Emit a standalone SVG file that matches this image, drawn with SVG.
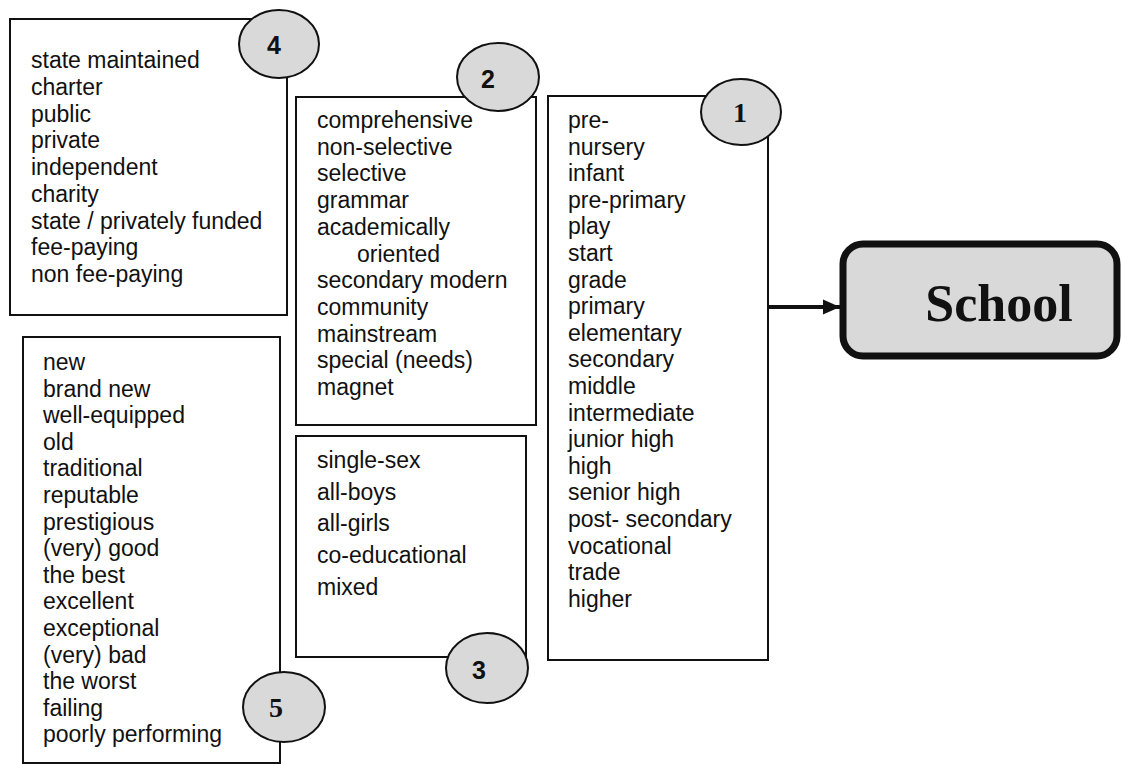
<svg xmlns="http://www.w3.org/2000/svg" width="1122" height="764" viewBox="0 0 1122 764">
<defs>
<style>
.box{fill:#fff;stroke:#111;stroke-width:2}
.badge{fill:#d9d9d9;stroke:#111;stroke-width:2}
.t{font-family:"Liberation Sans",Arial,sans-serif;font-size:23px;fill:#111}
.n{font-family:"Liberation Serif","Times New Roman",serif;font-weight:bold;font-size:28px;fill:#111;text-anchor:middle}
.ns{font-family:"Liberation Sans",Arial,sans-serif;font-weight:bold;font-size:25px;fill:#111;text-anchor:middle}
</style>
<marker id="ah" markerUnits="userSpaceOnUse" markerWidth="17" markerHeight="16" refX="17" refY="8" orient="auto">
<path d="M0,0.5 L17,8 L0,15.5 Z" fill="#111"/>
</marker>
</defs>
<rect width="1122" height="764" fill="#fff"/>

<g id="connectors">
<line x1="768" y1="307" x2="840" y2="307" stroke="#111" stroke-width="4" marker-end="url(#ah)"/>
</g>

<g id="node-school">
<rect x="843" y="244" width="274" height="112" rx="20" ry="20" fill="#d9d9d9" stroke="#111" stroke-width="7"/>
<text x="999" y="321" font-family="'Liberation Serif','Times New Roman',serif" font-weight="bold" font-size="52" text-anchor="middle" fill="#111">School</text>
</g>

<g id="node-4">
<rect class="box" x="10" y="19" width="277" height="296"/>
<text class="t">
<tspan x="31" y="68">state maintained</tspan>
<tspan x="31" y="94.75">charter</tspan>
<tspan x="31" y="121.5">public</tspan>
<tspan x="31" y="148.25">private</tspan>
<tspan x="31" y="175">independent</tspan>
<tspan x="31" y="201.75">charity</tspan>
<tspan x="31" y="228.5">state / privately funded</tspan>
<tspan x="31" y="255.25">fee-paying</tspan>
<tspan x="31" y="282">non fee-paying</tspan>
</text>
<ellipse class="badge" cx="279" cy="44" rx="40" ry="34"/>
<text class="ns" x="274" y="54">4</text>
</g>

<g id="node-2">
<rect class="box" x="296" y="97" width="240" height="328"/>
<text class="t">
<tspan x="317" y="128">comprehensive</tspan>
<tspan x="317" y="154.7">non-selective</tspan>
<tspan x="317" y="181.4">selective</tspan>
<tspan x="317" y="208.1">grammar</tspan>
<tspan x="317" y="234.8">academically</tspan>
<tspan x="357" y="261.5">oriented</tspan>
<tspan x="317" y="288.2">secondary modern</tspan>
<tspan x="317" y="314.9">community</tspan>
<tspan x="317" y="341.6">mainstream</tspan>
<tspan x="317" y="368.3">special (needs)</tspan>
<tspan x="317" y="395">magnet</tspan>
</text>
<ellipse class="badge" cx="498" cy="77" rx="41" ry="34"/>
<text class="ns" x="488" y="88">2</text>
</g>

<g id="node-1">
<rect class="box" x="548" y="96" width="220" height="564"/>
<text class="t">
<tspan x="568" y="128">pre-</tspan>
<tspan x="568" y="154.6">nursery</tspan>
<tspan x="568" y="181.2">infant</tspan>
<tspan x="568" y="207.8">pre-primary</tspan>
<tspan x="568" y="234.4">play</tspan>
<tspan x="568" y="261">start</tspan>
<tspan x="568" y="287.6">grade</tspan>
<tspan x="568" y="314.2">primary</tspan>
<tspan x="568" y="340.8">elementary</tspan>
<tspan x="568" y="367.4">secondary</tspan>
<tspan x="568" y="394">middle</tspan>
<tspan x="568" y="420.6">intermediate</tspan>
<tspan x="568" y="447.2">junior high</tspan>
<tspan x="568" y="473.8">high</tspan>
<tspan x="568" y="500.4">senior high</tspan>
<tspan x="568" y="527">post- secondary</tspan>
<tspan x="568" y="553.6">vocational</tspan>
<tspan x="568" y="580.2">trade</tspan>
<tspan x="568" y="606.8">higher</tspan>
</text>
<ellipse class="badge" cx="741" cy="112" rx="40" ry="33"/>
<text class="n" x="740" y="122">1</text>
</g>

<g id="node-3">
<rect class="box" x="296" y="436" width="230" height="221"/>
<text class="t">
<tspan x="317" y="468">single-sex</tspan>
<tspan x="317" y="499.5">all-boys</tspan>
<tspan x="317" y="531">all-girls</tspan>
<tspan x="317" y="563">co-educational</tspan>
<tspan x="317" y="595">mixed</tspan>
</text>
<ellipse class="badge" cx="487" cy="668" rx="41" ry="35"/>
<text class="ns" x="479" y="679">3</text>
</g>

<g id="node-5">
<rect class="box" x="23" y="337" width="257" height="426"/>
<text class="t">
<tspan x="43" y="370">new</tspan>
<tspan x="43" y="396.6">brand new</tspan>
<tspan x="43" y="423.2">well-equipped</tspan>
<tspan x="43" y="449.8">old</tspan>
<tspan x="43" y="476.4">traditional</tspan>
<tspan x="43" y="503">reputable</tspan>
<tspan x="43" y="529.6">prestigious</tspan>
<tspan x="43" y="556.2">(very) good</tspan>
<tspan x="43" y="582.8">the best</tspan>
<tspan x="43" y="609.4">excellent</tspan>
<tspan x="43" y="636">exceptional</tspan>
<tspan x="43" y="662.6">(very) bad</tspan>
<tspan x="43" y="689.2">the worst</tspan>
<tspan x="43" y="715.8">failing</tspan>
<tspan x="43" y="742.4">poorly performing</tspan>
</text>
<ellipse class="badge" cx="284" cy="707" rx="41" ry="35"/>
<text class="n" x="276" y="717">5</text>
</g>
</svg>
